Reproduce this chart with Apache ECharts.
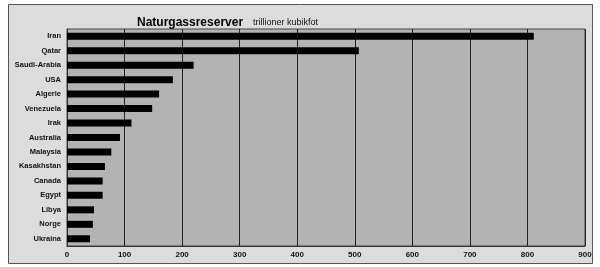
<!DOCTYPE html>
<html><head><meta charset="utf-8">
<script src="https://cdn.jsdelivr.net/npm/echarts@6/dist/echarts.min.js"></script>
<style>html,body{margin:0;padding:0;background:#fff}#c{width:600px;height:267px}</style>
</head><body><div id="c"></div>
<script>
const categories = ['Iran','Qatar','Saudi-Arabia','USA','Algerie','Venezuela','Irak','Australia','Malaysia','Kasakhstan','Canada','Egypt','Libya','Norge','Ukraina'];
const values = [811, 507, 220, 184, 160, 148, 112, 92, 77, 66, 62, 62, 47, 45, 40];
const xTicks = [0,100,200,300,400,500,600,700,800,900];
const titleMain = 'Naturgassreserver';
const titleSub = 'trillioner kubikfot';

const chart = echarts.init(document.getElementById('c'), null, {renderer:'canvas'});
const F = '"Liberation Sans", Arial, sans-serif';
chart.setOption({
  animation:false,
  backgroundColor:'#fff',
  graphic:[{type:'rect',z:-10,shape:{x:8.5,y:4.5,width:584,height:259},style:{fill:'#dcdcdc',stroke:'#555',lineWidth:1}}],
  title:{
    text:'{a|'+titleMain+'}  {b|'+titleSub+'}',
    left:132, top:9,
    textStyle:{fontWeight:'normal',rich:{
      a:{fontFamily:F,fontWeight:'bold',fontSize:12,color:'#000'},
      b:{fontFamily:F,fontWeight:'normal',fontSize:9,color:'#111'}
    }}
  },
  grid:{left:67,top:29,width:518,height:217,show:true,backgroundColor:'#b3b3b3',borderColor:'#444',borderWidth:1,containLabel:false},
  xAxis:{type:'value',min:0,max:900,interval:100,
    axisLine:{show:true,lineStyle:{color:'#333'}},axisTick:{show:false},
    splitLine:{show:true,lineStyle:{color:'#222',width:1}},
    axisLabel:{fontFamily:F,fontWeight:'bold',fontSize:8,color:'#111',margin:5,
      formatter:v=>xTicks.includes(v)?String(v):''}
  },
  yAxis:{type:'category',data:categories,inverse:true,
    axisLine:{show:true,lineStyle:{color:'#333'}},axisTick:{show:false},
    axisLabel:{fontFamily:F,fontWeight:'bold',fontSize:7.5,color:'#111',margin:6}
  },
  series:[{type:'bar',data:values,barWidth:7,itemStyle:{color:'#000'}}]
});
</script></body></html>
